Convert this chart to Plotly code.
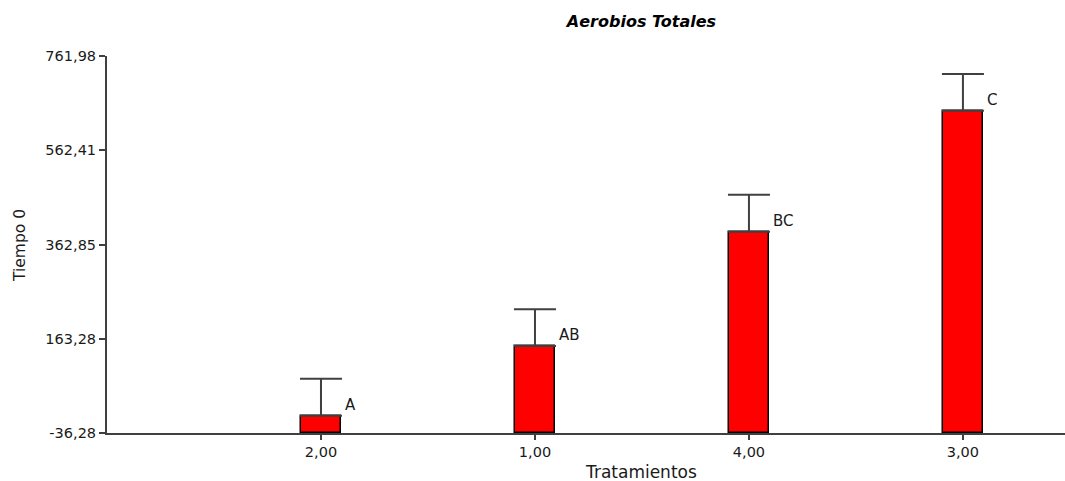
import plotly.graph_objects as go

# Treatment means (Tiempo 0) with their standard error and Tukey letters
tratamientos = ["2,00", "1,00", "4,00", "3,00"]
medias = [0.5, 148.0, 390.0, 646.0]
error_est = [78.0, 78.0, 78.0, 78.0]
letras = ["A", "AB", "BC", "C"]

y_ticks = [-36.28, 163.28, 362.85, 562.41, 761.98]
y_tick_labels = ["-36,28", "163,28", "362,85", "562,41", "761,98"]
y_min, y_max = -36.28, 761.98

pos = list(range(len(tratamientos)))
axis_col = "#404040"
text_col = "#1a1a1a"
font_fam = "DejaVu Sans"

fig = go.Figure()

# bars rise from the bottom of the value axis
fig.add_trace(go.Bar(
    x=pos,
    y=[m - y_min for m in medias],
    base=y_min,
    width=0.19,
    marker=dict(color="#ff0000", line=dict(color="#000000", width=1.5)),
    showlegend=False,
    hoverinfo="skip",
))

# upper error bars at each mean
fig.add_trace(go.Scatter(
    x=pos,
    y=medias,
    mode="markers",
    marker=dict(size=1, color="rgba(0,0,0,0)"),
    error_y=dict(type="data", symmetric=False, array=error_est,
                 arrayminus=[0] * len(error_est),
                 color=axis_col, thickness=2, width=21),
    showlegend=False,
    hoverinfo="skip",
))

annotations = []
for i, (m, l) in enumerate(zip(medias, letras)):
    annotations.append(dict(
        x=pos[i], y=m, xref="x", yref="y", text=l, showarrow=False,
        xanchor="left", yanchor="middle", xshift=22, yshift=11,
        font=dict(family=font_fam, size=15, color=text_col),
    ))

annotations.append(dict(
    x=0.5574, y=-0.103, xref="paper", yref="paper", text="Tratamientos",
    showarrow=False, xanchor="center", yanchor="middle",
    font=dict(family=font_fam, size=17, color=text_col),
))
annotations.append(dict(
    x=-0.0908, y=0.496, xref="paper", yref="paper", text="Tiempo 0",
    showarrow=False, xanchor="center", yanchor="middle", textangle=-90,
    font=dict(family=font_fam, size=15.5, color=text_col),
))

fig.update_layout(
    width=1065,
    height=481,
    margin=dict(l=107, r=0, t=56, b=48),
    plot_bgcolor="white",
    paper_bgcolor="white",
    title=dict(
        text="<b><i>Aerobios Totales</i></b>",
        x=641.5 / 1065, xanchor="center", xref="container",
        y=1 - 21 / 481, yanchor="middle", yref="container",
        font=dict(family=font_fam, size=16, color="#000000"),
    ),
    annotations=annotations,
    bargap=0,
)

fig.update_xaxes(
    range=[-1, 3.477],
    tickvals=pos,
    ticktext=tratamientos,
    showline=True, linecolor=axis_col, linewidth=2,
    ticks="outside", ticklen=5, tickwidth=2, tickcolor=axis_col,
    showgrid=False, zeroline=False,
    tickfont=dict(family=font_fam, size=14.5, color=text_col),
)
fig.update_yaxes(
    range=[y_min, y_max],
    tickvals=y_ticks,
    ticktext=y_tick_labels,
    showline=True, linecolor=axis_col, linewidth=2,
    ticks="outside", ticklen=6, tickwidth=2, tickcolor=axis_col,
    showgrid=False, zeroline=False,
    tickfont=dict(family=font_fam, size=14.5, color=text_col),
)

fig.write_html("out.html")
